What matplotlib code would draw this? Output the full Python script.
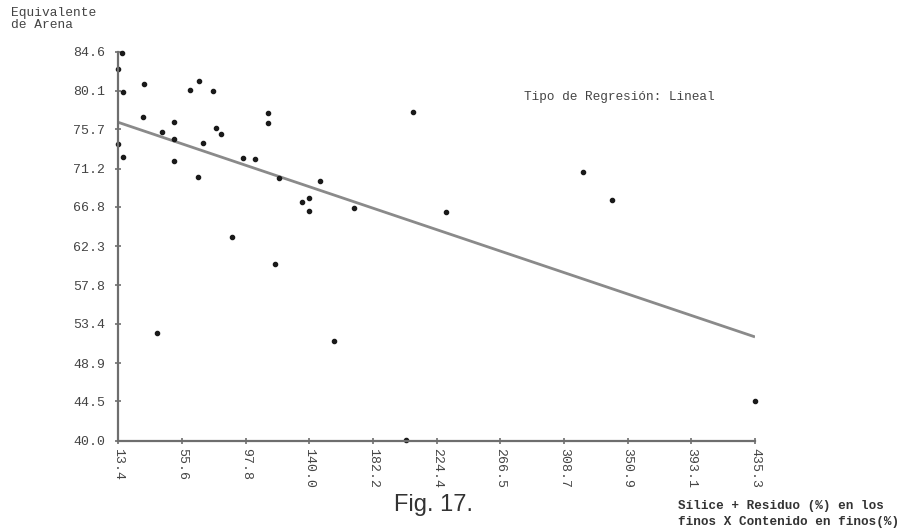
import matplotlib
matplotlib.use("Agg")
import matplotlib.pyplot as plt

# data
x_vals = [16.1, 13.4, 30.2, 16.7, 66.7, 60.9, 76.2, 30.0, 112.6, 112.6,
          50.3, 78.1, 81.3, 42.2, 50.3, 69.7, 13.4, 16.7, 50.3, 96.0,
          104.0, 66.2, 119.9, 147.3, 135.1, 140.0, 140.0, 169.8, 88.9, 117.2,
          156.0, 38.8, 208.9, 230.7, 321.6, 340.4, 435.3, 204.1]
y_vals = [84.5, 82.6, 80.9, 80.0, 81.2, 80.2, 80.1, 77.1, 77.6, 76.4,
          76.5, 75.9, 75.2, 75.4, 74.6, 74.1, 74.0, 72.5, 72.1, 72.4,
          72.3, 70.2, 70.1, 69.8, 67.4, 67.8, 66.3, 66.7, 63.3, 60.3,
          51.4, 52.4, 77.7, 66.2, 70.8, 67.6, 44.5, 40.1]

# regression line endpoints
reg_x = [13.4, 435.3]
reg_y = [76.5, 51.9]

x_ticks = [13.4, 55.6, 97.8, 140.0, 182.2, 224.4, 266.5, 308.7, 350.9, 393.1, 435.3]
y_ticks = [40.0, 44.5, 48.9, 53.4, 57.8, 62.3, 66.8, 71.2, 75.7, 80.1, 84.6]

mono = "Liberation Mono"
txt_col = "#444444"
W, H = 907, 530

fig = plt.figure(figsize=(W / 100, H / 100), dpi=100)
ax = fig.add_axes([118.3 / W, 1 - 440.7 / H, (755 - 118.3) / W, (440.7 - 51.7) / H])

ax.plot(reg_x, reg_y, color="#8a8a8a", lw=2.0, solid_capstyle="butt")
ax.plot(x_vals, y_vals, linestyle="none", marker="o", ms=3.0,
        color="#1a1a1a", clip_on=False)

ax.set_xlim(x_ticks[0], x_ticks[-1])
ax.set_ylim(y_ticks[0], y_ticks[-1])

for side in ("top", "right"):
    ax.spines[side].set_visible(False)
for side in ("left", "bottom"):
    ax.spines[side].set_color("#6e6e6e")
    ax.spines[side].set_linewidth(1.6)

ax.set_xticks(x_ticks)
ax.set_xticklabels([f"{v:.1f}" for v in x_ticks], rotation=-90,
                   family=mono, fontsize=9.5, color=txt_col)
ax.set_yticks(y_ticks)
ax.set_yticklabels([f"{v:.1f}" for v in y_ticks],
                   family=mono, fontsize=9.5, color=txt_col)
ax.tick_params(axis="both", direction="inout", length=5, width=1.2,
               color="#6e6e6e")
ax.tick_params(axis="y", pad=7)
ax.tick_params(axis="x", pad=3)

fig.text(11 / W, 1 - 19 / H, "Equivalente\nde Arena", family=mono,
         fontsize=9.3, color=txt_col, va="center", ha="left", linespacing=1.05)
fig.text(619 / W, 1 - 97 / H, "Tipo de Regresión: Lineal", family=mono,
         fontsize=9.2, color=txt_col, va="center", ha="center")
fig.text(434 / W, 1 - 505 / H, "Fig. 17.", family="Liberation Sans",
         fontsize=17, color="#333333", va="center", ha="center")
fig.text(678 / W, 1 - 506 / H, "Sílice + Residuo (%) en los", family=mono,
         fontsize=9.1, color="#333333", va="center", ha="left", weight="bold")
fig.text(678 / W, 1 - 522 / H, "finos X Contenido en finos(%)", family=mono,
         fontsize=9.1, color="#333333", va="center", ha="left", weight="bold")

fig.savefig("out.png", dpi=100)
